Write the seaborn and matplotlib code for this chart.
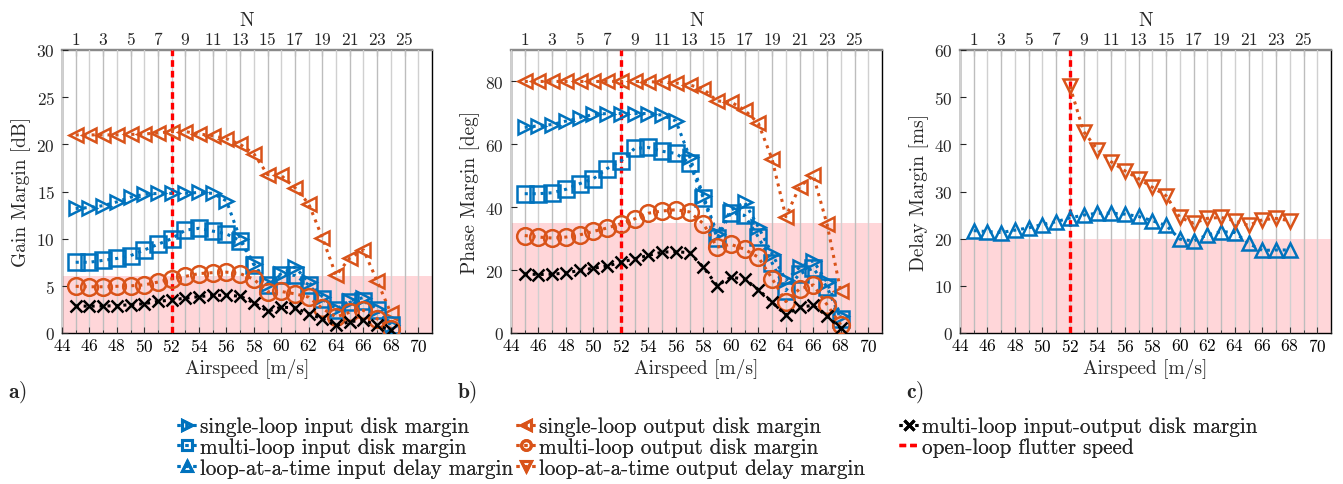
import matplotlib
matplotlib.use("Agg")
import matplotlib.pyplot as plt
from matplotlib.lines import Line2D
from matplotlib.ticker import MultipleLocator
import seaborn as sns

# ---------------- data ----------------
airspeed = list(range(45, 69))
airspeed_out_delay = list(range(52, 69))
flutter_speed = 52

gain_sl_in = [13.2, 13.3, 13.5, 13.9, 14.4, 14.7, 14.8, 14.8, 14.8, 14.9, 14.8, 14.0,
              10.0, 7.35, 5.2, 6.3, 7.0, 5.4, 3.85, 2.5, 3.4, 3.75, 2.5, 0.9]
gain_ml_in = [7.5, 7.5, 7.7, 7.9, 8.2, 8.8, 9.4, 10.0, 10.9, 11.1, 10.8, 10.5,
              9.8, 7.25, 5.05, 6.2, 6.1, 5.1, 3.6, 2.4, 3.25, 3.4, 2.4, 0.8]
gain_sl_out = [21.0, 21.0, 21.0, 21.0, 21.05, 21.1, 21.2, 21.35, 21.35, 21.1, 20.9, 20.6,
               20.0, 19.0, 16.8, 16.7, 15.4, 13.7, 10.1, 6.1, 7.95, 8.8, 5.5, 2.1]
gain_ml_out = [4.95, 4.9, 4.9, 4.95, 5.0, 5.1, 5.4, 5.75, 6.0, 6.3, 6.4, 6.45,
               6.3, 5.7, 4.35, 4.4, 4.15, 3.8, 2.6, 1.7, 2.2, 2.4, 1.5, 0.45]
gain_ml_io = [2.85, 2.85, 2.85, 2.9, 3.0, 3.1, 3.35, 3.5, 3.7, 3.85, 4.0, 4.0,
              3.9, 3.2, 2.3, 2.75, 2.65, 2.05, 1.5, 0.8, 1.2, 1.35, 0.8, 0.3]

phase_sl_in = [65.4, 65.9, 66.3, 67.4, 68.5, 69.5, 69.8, 69.8, 69.8, 69.8, 69.3, 67.4,
               56.0, 43.6, 31.6, 39.0, 41.6, 33.7, 25.2, 16.7, 20.9, 23.0, 16.1, 5.5]
phase_ml_in = [44.3, 44.3, 44.6, 45.7, 47.5, 49.1, 52.3, 54.7, 58.7, 59.0, 57.8, 57.1,
               54.0, 42.9, 30.2, 38.2, 37.4, 30.5, 22.3, 13.5, 18.8, 20.6, 14.6, 4.5]
phase_sl_out = [80.0, 80.0, 80.0, 80.0, 80.0, 80.0, 80.0, 80.0, 80.0, 79.9, 79.8, 79.5,
                78.9, 77.6, 73.8, 73.5, 70.9, 66.7, 55.3, 37.0, 46.5, 50.1, 34.6, 13.2]
phase_ml_out = [31.0, 30.5, 30.2, 30.5, 31.2, 32.3, 33.4, 34.75, 36.3, 38.1, 38.8, 39.2,
                38.5, 34.75, 27.3, 28.2, 26.6, 24.1, 17.3, 10.0, 14.0, 15.3, 9.0, 2.6]
phase_ml_io = [18.8, 18.6, 18.7, 19.1, 19.9, 20.6, 21.3, 22.5, 23.6, 24.7, 25.7, 25.9,
               25.5, 20.9, 15.1, 17.7, 17.2, 13.8, 9.8, 5.7, 8.2, 8.8, 5.4, 1.5]

delay_in = [21.7, 21.5, 21.3, 21.8, 22.3, 23.0, 23.6, 24.4, 25.0, 25.4, 25.4, 25.2,
            24.7, 23.8, 22.8, 19.9, 19.5, 20.8, 21.5, 21.3, 19.0, 17.5, 17.6, 17.6]
delay_out = [52.3, 42.7, 38.9, 36.3, 34.4, 32.7, 30.9, 29.1, 24.5, 23.3, 24.3, 24.5,
             23.8, 22.8, 24.0, 24.3, 23.8]

gain_limit = 6
phase_limit = 35
delay_limit = 20

legend_labels = [
    "single-loop input disk margin",
    "multi-loop input disk margin",
    "loop-at-a-time input delay margin",
    "single-loop output disk margin",
    "multi-loop output disk margin",
    "loop-at-a-time output delay margin",
    "multi-loop input-output disk margin",
    "open-loop flutter speed",
]

# ---------------- style ----------------
sns.set_style("ticks")
plt.rcParams["font.family"] = ["cmr10", "DejaVu Serif"]
plt.rcParams["mathtext.fontset"] = "cm"
plt.rcParams["axes.formatter.use_mathtext"] = True
plt.rcParams["axes.unicode_minus"] = False

BLUE = "#0072BD"
ORANGE = "#D95319"
BLACK = "#000000"
RED = "#FF0000"
PINK = "#FFD6D9"
DOT = (0, (1, 1.6))
DASH = (0, (2.0, 1.2))

series_style = {
    "sl_in": dict(color=BLUE, marker=">", ms=10.5),
    "ml_in": dict(color=BLUE, marker="s", ms=11.5),
    "lat_in": dict(color=BLUE, marker="^", ms=10.5),
    "sl_out": dict(color=ORANGE, marker="<", ms=10.5),
    "ml_out": dict(color=ORANGE, marker="o", ms=12),
    "lat_out": dict(color=ORANGE, marker="v", ms=10.5),
    "ml_io": dict(color=BLACK, marker="x", ms=8.5),
}


def draw(ax, x, y, key):
    st = series_style[key]
    sns.lineplot(x=x, y=y, ax=ax, color=st["color"], marker=st["marker"],
                 markersize=st["ms"], markerfacecolor="none",
                 markeredgecolor=st["color"], markeredgewidth=1.8,
                 linestyle=DOT, linewidth=2.2, zorder=4)


fig = plt.figure(figsize=(13.43, 4.85), dpi=100)
W, H = 1343, 485
axes_px = [(62, 432), (511, 882), (960, 1331)]
top_px, bot_px = 51, 334
axs = []
for l, r in axes_px:
    axs.append(fig.add_axes([l / W, (H - bot_px) / H, (r - l) / W, (bot_px - top_px) / H]))


def format_axes(ax, ymax, ystep, ylabel, limit, panel):
    ax.axhspan(0, limit, color=PINK, zorder=0.5, lw=0)
    ax.set_xlim(44, 71)
    ax.set_ylim(0, ymax)
    ax.xaxis.set_major_locator(MultipleLocator(2))
    ax.xaxis.set_minor_locator(MultipleLocator(1))
    ax.yaxis.set_major_locator(MultipleLocator(ystep))
    ax.grid(axis="x", which="major", color="#d0d0d0", lw=1.0, zorder=1)
    ax.grid(axis="x", which="minor", color="#bdbdbd", lw=1.0, zorder=1)
    ax.set_axisbelow(False)
    ax.tick_params(axis="x", which="major", direction="in", length=4, width=0.8,
                   labelsize=12.5, pad=3, top=False, colors="#333333", labelcolor="black")
    ax.tick_params(axis="x", which="minor", direction="in", length=2.5, width=0.6, top=False)
    ax.tick_params(axis="y", which="major", direction="in", length=4, width=0.8,
                   labelsize=12.5, pad=5, right=False)
    for s in ("left", "bottom", "right"):
        ax.spines[s].set_color("black")
        ax.spines[s].set_linewidth(1.0)
    ax.spines["top"].set_color("#8a8a8a")
    ax.spines["top"].set_linewidth(1.6)
    ax.set_xlabel("Airspeed [m/s]", fontsize=14, labelpad=3)
    ax.set_ylabel(ylabel, fontsize=14, labelpad=4)

    sec = ax.secondary_xaxis("top", functions=(lambda v: v - 44, lambda n: n + 44))
    sec.set_xticks(range(1, 26, 2))
    sec.xaxis.set_minor_locator(MultipleLocator(1))
    sec.tick_params(which="major", direction="in", length=4, width=0.8, labelsize=12.5, pad=2)
    sec.tick_params(which="minor", direction="in", length=2.5, width=0.6)
    sec.spines["top"].set_color("#8a8a8a")
    sec.spines["top"].set_linewidth(1.6)
    sec.set_xlabel("N", fontsize=14, labelpad=4)

    ax.axvline(flutter_speed, color=RED, lw=2.4, linestyle=DASH, zorder=3)
    bb = ax.get_position()
    fig.text(bb.x0 - 54 / W, 1 - 392 / H, r"$\mathbf{" + panel + "}$", fontsize=15.5,
             ha="left", va="center")


# ---- a) gain margin ----
ax = axs[0]
format_axes(ax, 30, 5, "Gain Margin [dB]", gain_limit, "a)")
draw(ax, airspeed, gain_sl_out, "sl_out")
draw(ax, airspeed, gain_sl_in, "sl_in")
draw(ax, airspeed, gain_ml_in, "ml_in")
draw(ax, airspeed, gain_ml_out, "ml_out")
draw(ax, airspeed, gain_ml_io, "ml_io")

# ---- b) phase margin ----
ax = axs[1]
format_axes(ax, 90, 20, "Phase Margin [deg]", phase_limit, "b)")
draw(ax, airspeed, phase_sl_out, "sl_out")
draw(ax, airspeed, phase_sl_in, "sl_in")
draw(ax, airspeed, phase_ml_in, "ml_in")
draw(ax, airspeed, phase_ml_out, "ml_out")
draw(ax, airspeed, phase_ml_io, "ml_io")

# ---- c) delay margin ----
ax = axs[2]
format_axes(ax, 60, 10, "Delay Margin [ms]", delay_limit, "c)")
draw(ax, airspeed, delay_in, "lat_in")
draw(ax, airspeed_out_delay, delay_out, "lat_out")

for a in axs:
    leg = a.get_legend()
    if leg is not None:
        leg.remove()

# ---- shared legend: three fixed-position columns ----
keys = ["sl_in", "ml_in", "lat_in", "sl_out", "ml_out", "lat_out", "ml_io"]
handles = []
for k in keys:
    st = series_style[k]
    handles.append(Line2D([], [], color=st["color"], marker=st["marker"], markersize=7,
                          markerfacecolor="none", markeredgecolor=st["color"],
                          markeredgewidth=2.2, linestyle=DOT, linewidth=2.2))
handles.append(Line2D([], [], color=RED, linestyle=DASH, linewidth=2.4))

columns = [(slice(0, 3), 166), (slice(3, 6), 505), (slice(6, 8), 888)]
for sl, x_px in columns:
    leg = fig.legend(handles[sl], legend_labels[sl], ncol=1, loc="upper left",
                     bbox_to_anchor=(x_px / W, 1 - 407 / H), frameon=False, fontsize=15.2,
                     handlelength=1.0, handletextpad=0.12,
                     labelspacing=0.06, borderpad=0)
    fig.add_artist(leg)

fig.savefig("out.png", dpi=100)
